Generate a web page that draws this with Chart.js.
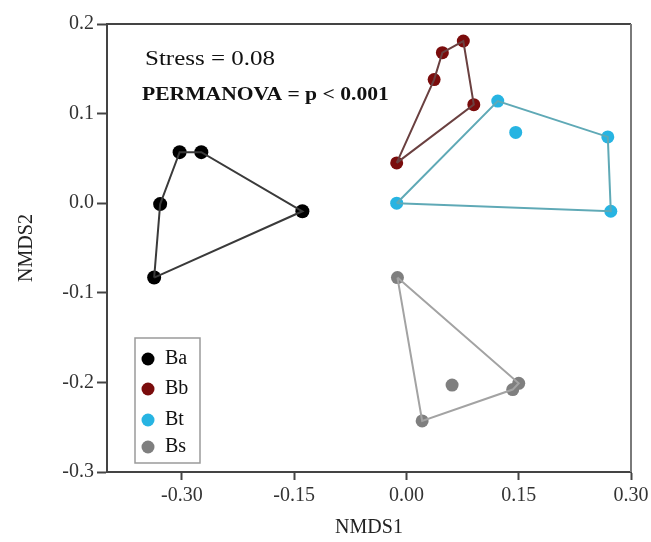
<!DOCTYPE html>
<html>
<head>
<meta charset="utf-8">
<script src="https://cdn.jsdelivr.net/npm/chart.js@4"></script>
<style>
    html, body { margin: 0; padding: 0; background: #fff; }
    #wrap { width: 651px; height: 542px; }
</style>
</head>
<body>
<div id="wrap"><canvas id="nmdsChart" width="651" height="542"></canvas></div>
<script>
// group names and colours
const groups = ["Ba", "Bb", "Bt", "Bs"];
const pointColors = ["#000000", "#7a0c0c", "#27b4e2", "#7f7f7f"];
const lineColors = ["#3a3a3a", "#6a4040", "#5fa9b6", "#a3a3a3"];

// NMDS scores
const baX = [-0.337, -0.329, -0.303, -0.274, -0.139];
const baY = [-0.083, -0.001, 0.057, 0.057, -0.009];
const bbX = [-0.013, 0.037, 0.048, 0.076, 0.090];
const bbY = [0.045, 0.138, 0.168, 0.181, 0.110];
const btX = [-0.013, 0.122, 0.146, 0.269, 0.273];
const btY = [0.000, 0.114, 0.079, 0.074, -0.009];
const bsX = [-0.012, 0.061, 0.150, 0.142, 0.021];
const bsY = [-0.083, -0.203, -0.201, -0.208, -0.243];

// indices of the points on each hull, in drawing order
const baHull = [0, 1, 2, 3, 4];
const bbHull = [0, 1, 2, 3, 4];
const btHull = [0, 1, 3, 4];
const bsHull = [0, 2, 3, 4];

const xTicks = [-0.30, -0.15, 0.00, 0.15, 0.30];
const yTicks = [-0.3, -0.2, -0.1, 0.0, 0.1, 0.2];

const allX = [baX, bbX, btX, bsX];
const allY = [baY, bbY, btY, bsY];
const hulls = [baHull, bbHull, btHull, bsHull];

const SERIF = "'Liberation Serif', 'Times New Roman', serif";

const datasets = [];
groups.forEach((g, i) => {
    const pts = allX[i].map((x, k) => ({ x, y: allY[i][k] }));
    const hull = hulls[i].map(k => pts[k]);
    hull.push(pts[hulls[i][0]]);
    datasets.push({
        label: g + " hull",
        data: hull,
        showLine: true,
        borderColor: lineColors[i],
        borderWidth: 2,
        pointRadius: 0,
        fill: false
    });
    datasets.push({
        label: g,
        data: pts,
        showLine: false,
        pointRadius: i === 0 ? 7 : 6.5,
        pointBackgroundColor: pointColors[i],
        pointBorderColor: pointColors[i],
        pointBorderWidth: 0
    });
});

// text drawn a bit wider than the font, like the reference
function wideText(ctx, text, x, y, sx) {
    ctx.save();
    ctx.translate(x, y);
    ctx.scale(sx, 1);
    ctx.fillText(text, 0, 0);
    ctx.restore();
}

const extras = {
    id: "extras",
    afterDraw(chart) {
        const { ctx, chartArea: a } = chart;
        ctx.save();
        // top and right frame
        ctx.lineWidth = 2;
        ctx.strokeStyle = "#444";
        ctx.beginPath();
        ctx.moveTo(a.left, a.top);
        ctx.lineTo(a.right, a.top);
        ctx.stroke();
        ctx.strokeStyle = "#7a7a7a";
        ctx.beginPath();
        ctx.moveTo(a.right, a.top);
        ctx.lineTo(a.right, a.bottom);
        ctx.stroke();

        // annotations
        ctx.fillStyle = "#111";
        ctx.textBaseline = "middle";
        ctx.textAlign = "left";
        ctx.font = "20px " + SERIF;
        wideText(ctx, "Stress = 0.08", a.left + 38, a.top + 36, 1.25);
        ctx.font = "bold 18px " + SERIF;
        wideText(ctx, "PERMANOVA = p < 0.001", a.left + 35, a.top + 71, 1.2);

        // legend box
        const lx = a.left + 28, ly = a.top + 314;
        ctx.strokeStyle = "#9a9a9a";
        ctx.lineWidth = 1.5;
        ctx.strokeRect(lx, ly, 65, 125);
        ctx.font = "20px " + SERIF;
        const rowY = [21, 51, 82, 109];
        groups.forEach((g, i) => {
            ctx.fillStyle = pointColors[i];
            ctx.beginPath();
            ctx.arc(lx + 13, ly + rowY[i], 6.5, 0, Math.PI * 2);
            ctx.fill();
            ctx.fillStyle = "#111";
            ctx.fillText(g, lx + 30, ly + rowY[i]);
        });
        ctx.restore();
    }
};

new Chart(document.getElementById("nmdsChart"), {
    type: "scatter",
    data: { datasets },
    options: {
        responsive: false,
        animation: false,
        layout: { padding: { left: 0, top: 24, right: 20, bottom: 0 } },
        plugins: {
            legend: { display: false },
            tooltip: { enabled: false }
        },
        scales: {
            x: {
                min: -0.40,
                max: 0.30,
                afterBuildTicks: s => { s.ticks = xTicks.map(v => ({ value: v })); },
                afterFit: s => { s.height = 70; s.paddingLeft = 0; s.paddingRight = 0; },
                grid: { drawOnChartArea: false, drawTicks: true, tickLength: 8, tickColor: "#444", tickWidth: 2 },
                border: { color: "#444", width: 2 },
                ticks: {
                    color: "#333",
                    padding: 4,
                    font: { family: SERIF, size: 20 },
                    callback: v => v.toFixed(2)
                },
                title: {
                    display: true,
                    text: "NMDS1",
                    color: "#222",
                    font: { family: SERIF, size: 20 },
                    padding: { top: 0, bottom: 2 }
                }
            },
            y: {
                min: -0.3,
                max: 0.2,
                afterBuildTicks: s => { s.ticks = yTicks.map(v => ({ value: v })); },
                afterFit: s => { s.width = 107; s.paddingTop = 0; s.paddingBottom = 0; },
                grid: { drawOnChartArea: false, drawTicks: true, tickLength: 10, tickColor: "#444", tickWidth: 2 },
                border: { color: "#444", width: 2 },
                ticks: {
                    color: "#333",
                    padding: 3,
                    font: { family: SERIF, size: 20 },
                    callback: v => v.toFixed(1)
                },
                title: {
                    display: true,
                    text: "NMDS2",
                    color: "#222",
                    font: { family: SERIF, size: 20 },
                    padding: { top: 15, bottom: 0 }
                }
            }
        }
    },
    plugins: [extras]
});
</script>
</body>
</html>
